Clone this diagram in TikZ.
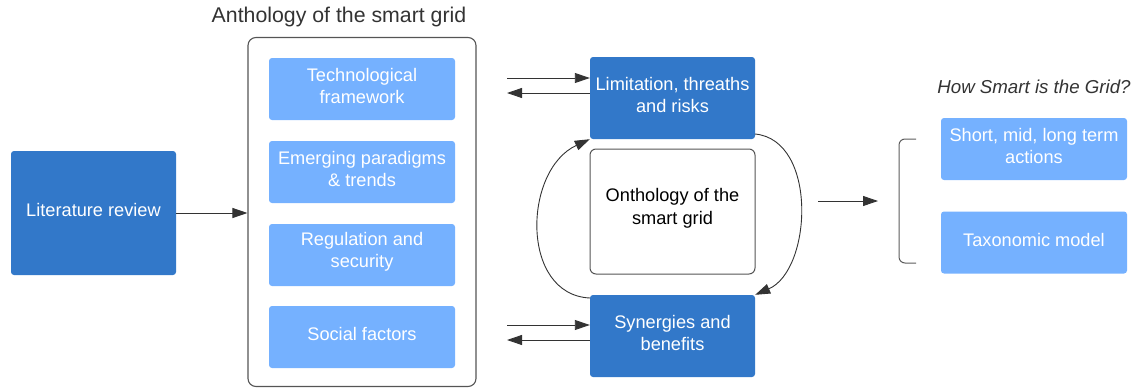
\documentclass[tikz,border=0pt]{standalone}
\usepackage{fontspec}
\setmainfont{Liberation Sans}
\usetikzlibrary{arrows.meta}
\definecolor{darkbox}{HTML}{3278C9}
\definecolor{lightbox}{HTML}{75B1FF}
\definecolor{ink}{HTML}{333333}
\definecolor{frame}{HTML}{555555}
\tikzset{
  boxtext/.style={font=\fontsize{18.2}{22.5}\selectfont, align=center, inner sep=0pt},
  darkstep/.style={fill=darkbox, rounded corners=3pt, inner sep=0pt},
  lightstep/.style={fill=lightbox, rounded corners=3pt, inner sep=0pt},
  whitetext/.style={boxtext, text=white},
  conn/.style={draw=ink, line width=0.9pt, -{Triangle[length=15pt,width=10pt]}},
}
\begin{document}
\begin{tikzpicture}[x=1pt,y=-1pt]
\useasboundingbox (0,0) rectangle (1133,388);
% left box
\node[darkstep, minimum width=165pt, minimum height=124pt] (lit) at (93.5,213) {};
\node[whitetext] (littext) at ([yshift=3pt]lit.center) {Literature review};
% container
\node[draw=frame, line width=1.1pt, rounded corners=8pt, minimum width=228pt, minimum height=349pt, inner sep=0pt] (anth) at (362,212) {};
\node[font=\fontsize{21.3}{25}\selectfont, text=ink, inner sep=0pt] (anthtitle) at (339,17) {Anthology of the smart grid};
\node[lightstep, minimum width=186pt, minimum height=62pt] (tech) at (362,89) {};
\node[whitetext] (techtext) at ([yshift=3pt]tech.center) {Technological\\framework};
\node[lightstep, minimum width=186pt, minimum height=62pt] (emer) at (362,172) {};
\node[whitetext] (emertext) at ([yshift=3pt]emer.center) {Emerging paradigms\\\& trends};
\node[lightstep, minimum width=186pt, minimum height=62pt] (regu) at (362,255) {};
\node[whitetext] (regutext) at ([yshift=3pt]regu.center) {Regulation and\\security};
\node[lightstep, minimum width=186pt, minimum height=62pt] (soci) at (362,337) {};
\node[whitetext] (socitext) at ([yshift=3pt]soci.center) {Social factors};
\draw[conn] (lit.east) -- (anth.west |- lit.east);
% middle
\node[darkstep, minimum width=165pt, minimum height=82pt] (lim) at (672.5,98) {};
\node[whitetext] (limtext) at ([yshift=3pt]lim.center) {Limitation, threaths\\and risks};
\node[draw=frame, fill=white, line width=1pt, rounded corners=6pt, minimum width=165pt, minimum height=125pt, inner sep=0pt] (onto) at (672.5,211.5) {};
\node[boxtext, text=black] (ontotext) at ([yshift=3pt]onto.center) {Onthology of the\\smart grid};
\node[darkstep, minimum width=165pt, minimum height=82pt] (syn) at (672.5,336) {};
\node[whitetext] (syntext) at ([yshift=3pt]syn.center) {Synergies and\\benefits};
% double arrows
\coordinate (la1) at (507,78); \coordinate (la2) at (569,93);
\draw[conn] (la1) -- (la1 -| lim.west);
\draw[conn] (la2 -| lim.west) -- (la1 |- la2);
\coordinate (lb1) at (507,325); \coordinate (lb2) at (569,340);
\draw[conn] (lb1) -- (lb1 -| syn.west);
\draw[conn] (lb2 -| syn.west) -- (lb1 |- lb2);
% curves
\coordinate (cl1) at (590,298);
\coordinate (cr1) at (755,134);
\draw[conn] (cl1) .. controls (520,295) and (523,170) .. (lim.south west);
\draw[conn] (cr1) .. controls (818,140) and (812,270) .. (syn.north east);
% right part
\coordinate (ra1) at (818,201); \coordinate (ra2) at (878,201);
\draw[conn] (ra1) -- (ra2);
\coordinate (b1) at (916,139); \coordinate (b2) at (916,263);
\draw[draw=ink!80, line width=1pt, rounded corners=6pt] (b1) -- (899,139) -- (899,263) -- (b2);
\node[font=\fontsize{18.7}{22}\selectfont\itshape, text=ink, inner sep=0pt] (how) at (1034,87) {How Smart is the Grid?};
\node[lightstep, minimum width=186pt, minimum height=62pt] (short) at (1034,149) {};
\node[whitetext] (shorttext) at ([yshift=3pt]short.center) {Short, mid, long term\\actions};
\node[lightstep, minimum width=186pt, minimum height=62pt] (taxo) at (1034,242.5) {};
\node[whitetext] (taxotext) at ([yshift=3pt]taxo.center) {Taxonomic model};
\end{tikzpicture}
\end{document}
